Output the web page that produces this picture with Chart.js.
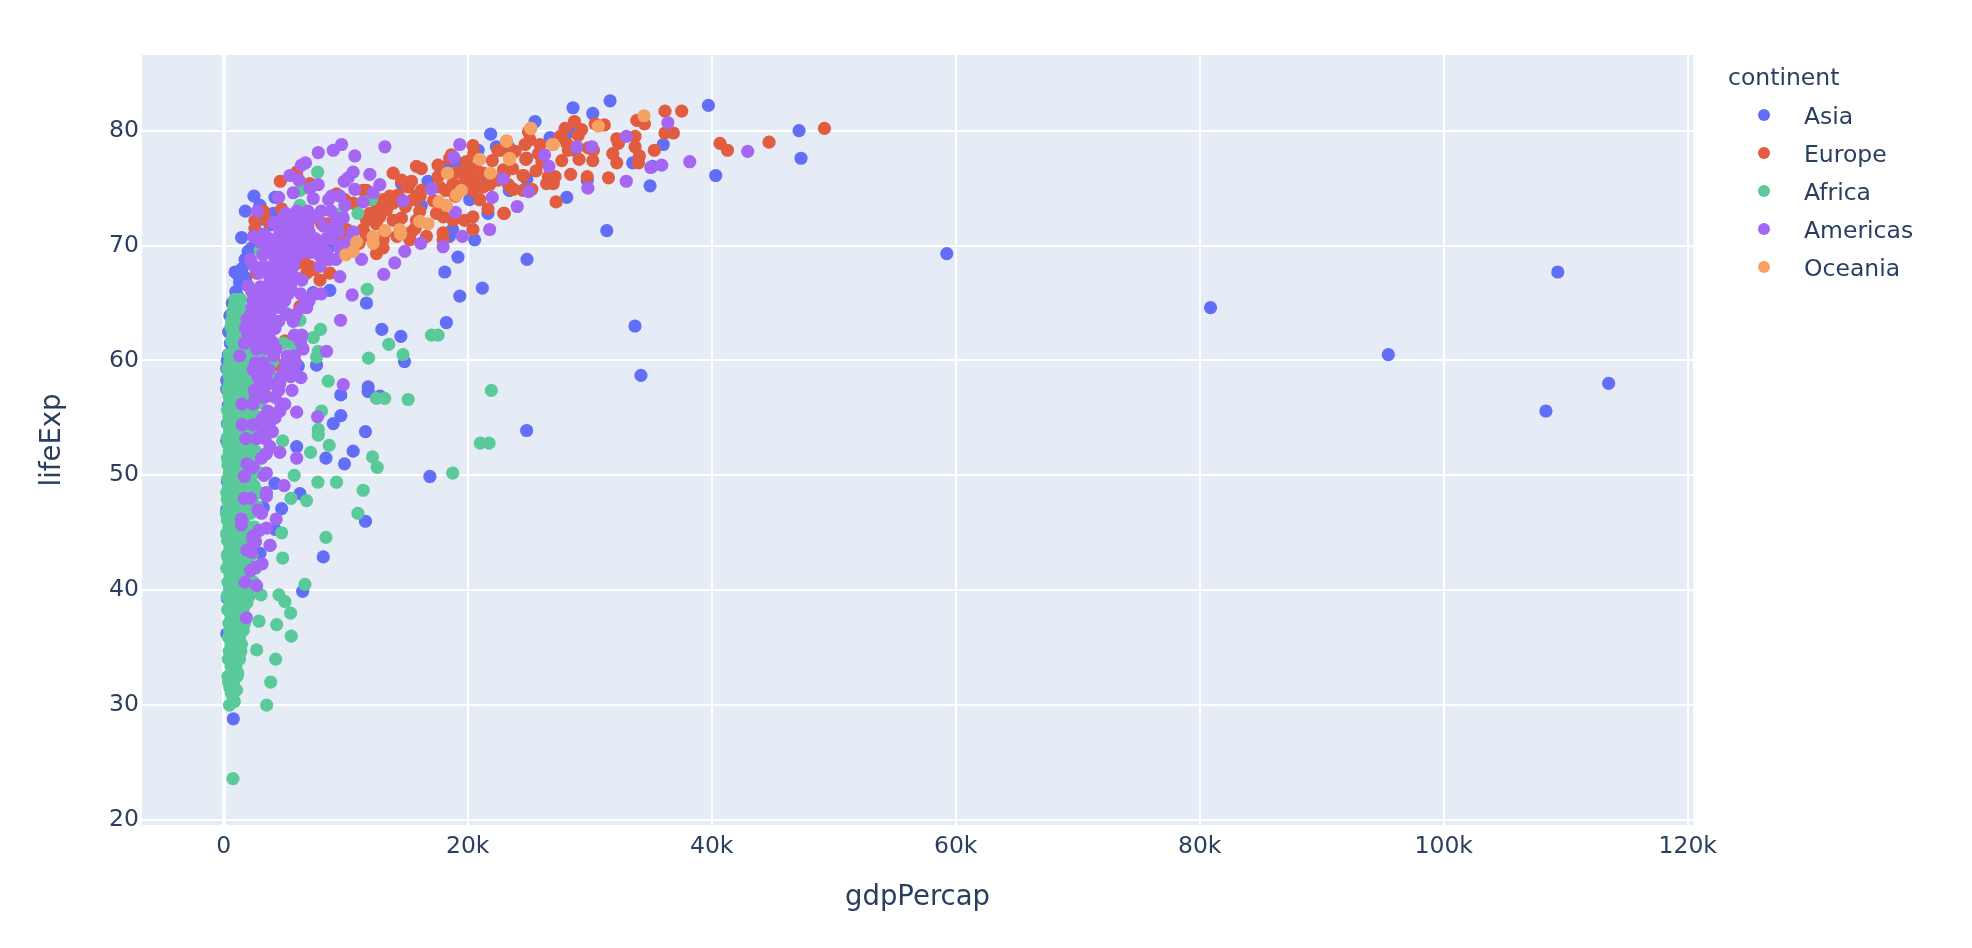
<!DOCTYPE html>
<html>
<head>
<meta charset="utf-8">
<title>gdpPercap vs lifeExp</title>
<script src="https://cdn.jsdelivr.net/npm/chart.js@4/dist/chart.umd.min.js"></script>
<style>
html, body { margin: 0; padding: 0; background: #fff; }
canvas { display: block; }
</style>
</head>
<body>
<canvas id="scatterCanvas" width="1972" height="948"></canvas>
<script>
// tick labels
const xTickValues = [0, 20000, 40000, 60000, 80000, 100000, 120000];
const yTickValues = [20, 30, 40, 50, 60, 70, 80];

const continents = ['Asia', 'Europe', 'Africa', 'Americas', 'Oceania'];
const continentColors = ['#636EF8', '#E25D3F', '#5BCA9A', '#A666F4', '#F5A263'];

// [gdpPercap, lifeExp]
const asia = [
  [108380,55.6],[113520,58.0],[95460,60.5],[80890,64.6],[109350,67.7],[59270,69.3],
  [31400,71.3],[28120,74.2],[34950,75.2],[40330,76.1],[47320,77.6],[47160,80.0],[39730,82.2],[36030,78.8],
  [35140,76.9],[33520,77.2],[29800,75.7],[31670,82.6],[28630,82.0],[30250,81.5],[25520,80.8],[26750,79.4],
  [28380,79.9],[28800,78.3],[23410,74.8],[23340,78.6],[24840,77.6],[24840,75.8],[24860,68.8],[33710,63.0],[34200,58.7],
  [21880,79.7],[22350,78.6],[14570,75.4],[16750,75.6],[18250,76.9],[19200,77.2],[20850,78.3],[20160,74.0],
  [20980,74.0],[23440,74.8],[21660,72.8],[20570,70.5],[18760,71.4],[18500,70.8],[19200,69.0],[18120,67.7],
  [19350,65.6],[21200,66.3],[18250,63.3],[14520,62.1],[12960,62.7],[11700,65.0],[14820,59.9],[11840,57.7],
  [11840,57.3],[12800,56.9],[9600,57.0],[9600,55.2],[8980,54.5],[11620,53.8],[24830,53.9],[7610,59.6],[6110,59.5],
  [8700,66.1],[7340,65.9],[5980,52.5],[8380,51.5],[10610,52.1],[9900,51.0],[16900,49.9],[4200,49.3],[6250,48.4],
  [4750,47.1],[3250,47.2],[11620,46.0],[8160,42.9],[6470,39.9],[790,28.8],[2970,43.2],[4200,45.3],
  [1770,73.0],[2480,74.3],[4200,74.2],[2970,73.5],[4070,72.8],[1470,70.7],[1750,68.8],[2000,69.5],[930,67.7],
  [1470,67.6],[1880,66.6],[1060,65.6],[790,63.8],[650,63.1],[380,60.5],[250,59.3],[250,58.3],[380,56.1],[250,53.0],
  [1200,67.4],[1500,68.0],[1300,66.8],[1800,67.2],[1000,66.0],[1200,65.5],[700,65.0],[800,64.3],[500,63.9],
  [400,62.5],[550,61.5],[300,60.0],[250,57.5],[300,54.5],[300,49.5],[250,47.0],[320,43.0],[300,39.3],[250,36.2],
  [700,31.5],[800,30.4],[3800,71.8],[3200,72.3],[2600,71.0],[2300,69.8],[5200,72.0],[7200,70.3],[8600,69.8],[13200,71.2],
  [17800,72.8],[16200,73.5],[18600,74.8],[21400,75.9]
];

const europe = [
  [49240,80.2],[44700,79.0],[41290,78.3],[40680,78.9],[37540,81.7],[36170,81.7],[36860,79.8],[36170,79.8],[35300,78.3],
  [34490,80.6],[33860,80.9],[34070,77.8],[34000,77.2],[33720,78.6],[33720,79.5],[32220,79.3],[32350,78.9],[31890,78.0],
  [32220,77.2],[31200,80.5],[30440,80.6],[30300,78.3],[30250,77.4],[29880,78.5],[29130,77.5],[29340,80.1],[28750,80.8],
  [27980,80.2],[29060,79.6],[27570,79.5],[28120,78.9],[28250,78.3],[27710,77.4],[26080,77.3],[25800,78.0],[25930,78.8],
  [25100,79.2],[24980,79.9],[24700,78.8],[23880,78.2],[22650,78.3],[24760,77.5],[23680,76.7],[22930,76.6],[25600,76.5],
  [24570,76.1],[26610,76.0],[27160,76.0],[26470,75.4],[27020,75.4],[28440,76.2],[29800,76.0],[31540,75.9],[27240,73.8],
  [23000,72.8],[23740,74.9],[23340,75.3],[24700,74.9],[25250,74.9],
  [20430,78.7],[20490,78.0],[19890,77.3],[20650,76.7],[21250,76.3],[20710,75.7],[21250,75.1],[20430,74.8],[20980,74.0],
  [19890,76.3],[19200,76.4],[19750,76.1],[18800,75.4],[18660,77.9],[18530,77.6],[17570,77.0],[17570,76.0],[17700,75.1],
  [18200,74.8],[15800,76.9],[16200,76.7],[13890,76.3],[14570,75.7],[15390,75.6],[15120,75.1],[16200,74.8],[15800,74.3],
  [15530,74.0],[16100,74.3],[13620,74.3],[13070,74.0],[13890,73.7],[12520,73.1],[13340,73.1],[12800,72.5],[11980,72.8],
  [11700,72.2],[12250,72.2],[11430,74.8],[11700,74.8],[9250,74.5],[9930,74.0],[10610,73.7],[11700,74.0],[14300,74.4],
  [13000,73.6],[13890,72.2],[14570,72.4],[16070,73.0],[17440,72.8],[15800,72.2],[18000,72.5],[18800,72.2],[19750,72.2],
  [20430,72.5],[20430,71.4],[17980,71.1],[17980,70.5],[16620,70.8],[15250,70.5],[15400,71.2],[13070,70.5],[13210,71.1],
  [11700,70.9],[12250,70.6],[11430,71.4],[10070,71.4],[9600,70.2],[12520,69.3],[13070,69.8],[21660,73.2],[22950,72.8],
  [24530,76.1],[23710,78.2],[22480,78.3],[22020,77.4],[23030,76.3],[22480,75.7],[23570,75.0],[24530,74.8],[24800,77.6],
  [19400,75.2],[20100,75.6],[21800,75.3],[19000,74.3],[17200,73.9],[14900,73.4],[12500,71.9],[15700,71.5],[14200,70.8],
  [4640,75.6],[5980,76.4],[7070,75.4],[6500,75.0],[4750,73.2],[3250,73.0],[2560,72.2],[2560,71.5],[3660,72.1],
  [8020,71.9],[8430,71.9],[6520,68.8],[7070,68.2],[7890,67.0],[8700,67.6],[8430,68.8],[5430,67.2],[2700,67.6],
  [6250,64.7],[4340,64.7],[5020,61.7],[2160,59.3],[4470,59.6],[3520,56.9],[6800,67.6],[7400,67.9],[6200,68.5],
  [9500,72.0],[10200,70.5],[10500,69.8],[11100,70.2]
];

const africa = [
  [760,23.6],[470,30.0],[870,30.3],[3520,30.0],[3850,32.0],[4260,34.0],[2700,34.8],[5540,36.0],[5480,38.0],[4340,37.0],
  [2890,37.3],[5020,39.0],[4530,39.6],[3060,39.6],[6660,40.5],[4830,42.8],[8380,44.6],[4750,45.0],[11000,46.7],
  [6790,47.8],[5510,48.0],[11430,48.7],[9250,49.4],[7720,49.4],[5780,50.0],[18770,50.2],[12580,50.7],[12200,51.6],
  [7120,52.0],[8650,52.6],[21040,52.8],[21750,52.8],[4830,53.0],[7700,76.4],[11760,66.2],[17030,62.2],[17570,62.2],
  [13530,61.4],[7940,62.7],[14700,60.5],[11870,60.2],[7610,60.3],[7750,60.8],[21940,57.4],[8570,58.2],[8020,55.6],
  [7750,53.5],[7750,54.0],[12520,56.7],[13200,56.7],[15120,56.6],
  [6250,73.5],[6250,74.8],[4880,71.9],[3000,69.6],[4180,70.2],[9660,72.8],[11000,72.8],[12100,74.0],[3250,65.3],
  [3800,65.0],[5160,64.1],[6250,63.5],[1200,65.3],[1470,63.8],[1060,62.4],[1750,61.8],[4880,61.5],[5700,61.4],[7340,62.0],
  [620,31.0],[1050,31.3],[500,31.5],[400,32.0],[800,32.0],[350,32.5],[1100,32.5],[1150,32.8],[600,33.4],[1000,33.4],
  [380,34.0],[720,34.0],[1300,34.0],[450,34.7],[950,34.7],[1400,34.7],[600,35.3],[1100,35.3],[1450,35.3],[400,35.9],
  [800,35.9],[1300,35.9],[500,36.5],[1000,36.5],[1600,36.5],[420,37.1],[780,37.1],[1250,37.1],[1700,37.1],[600,37.7],
  [950,37.7],[1500,37.7],[320,38.3],[720,38.3],[1150,38.3],[1600,38.3],[500,38.9],[900,38.9],[1350,38.9],[1900,38.9],
  [280,39.5],[650,39.5],[1100,39.5],[1700,39.5],[2100,39.5],[480,40.1],[850,40.1],[1300,40.1],[1850,40.1],[350,40.7],
  [700,40.7],[1150,40.7],[1600,40.7],[2450,40.7],[520,41.3],[950,41.3],[1400,41.3],[2000,41.3],[250,41.9],[650,41.9],
  [1100,41.9],[1750,41.9],[2600,41.9],[420,42.5],[850,42.5],[1300,42.5],[1950,42.5],[300,43.1],[700,43.1],[1150,43.1],
  [1600,43.1],[2300,43.1],[500,43.7],[950,43.7],[1450,43.7],[2050,43.7],[3800,43.9],[320,44.3],[750,44.3],[1200,44.3],
  [1800,44.3],[2600,44.3],[230,44.9],[600,44.9],[1000,44.9],[1500,44.9],[2150,44.9],[420,45.5],[850,45.5],[1300,45.5],
  [1900,45.5],[2500,45.5],[300,46.1],[700,46.1],[1150,46.1],[1650,46.1],[220,46.7],[550,46.7],[1000,46.7],[1450,46.7],
  [2200,46.7],[400,47.3],[850,47.3],[1300,47.3],[1850,47.3],[2700,47.3],[300,47.9],[680,47.9],[1150,47.9],[1600,47.9],
  [2300,47.9],[250,48.5],[550,48.5],[1000,48.5],[1450,48.5],[2000,48.5],[2900,48.5],[400,49.1],[800,49.1],[1300,49.1],
  [1800,49.1],[2500,49.1],[320,49.7],[650,49.7],[1100,49.7],[1600,49.7],[2200,49.7],[450,50.3],[900,50.3],[1400,50.3],
  [1900,50.3],[2800,50.3],[350,50.9],[750,50.9],[1200,50.9],[1700,50.9],[2400,50.9],[300,51.5],[600,51.5],[1050,51.5],
  [1550,51.5],[2100,51.5],[3000,51.5],[450,52.1],[900,52.1],[1350,52.1],[1850,52.1],[2600,52.1],[350,52.7],[750,52.7],
  [1200,52.7],[1700,52.7],[2300,52.7],[300,53.3],[650,53.3],[1100,53.3],[1550,53.3],[2050,53.3],[2900,53.3],[480,53.9],
  [900,53.9],[1400,53.9],[1900,53.9],[2600,53.9],[350,54.5],[800,54.5],[1250,54.5],[1750,54.5],[2400,54.5],[3100,54.5],
  [420,55.1],[950,55.1],[1450,55.1],[2000,55.1],[2800,55.1],[300,55.7],[750,55.7],[1200,55.7],[1700,55.7],[2350,55.7],
  [500,56.3],[1000,56.3],[1500,56.3],[2100,56.3],[3000,56.3],[420,56.9],[850,56.9],[1350,56.9],[1900,56.9],[2700,56.9],
  [350,57.5],[750,57.5],[1200,57.5],[1750,57.5],[2400,57.5],[3300,57.5],[500,58.1],[1000,58.1],[1500,58.1],[2100,58.1],
  [420,58.7],[850,58.7],[1350,58.7],[2000,58.7],[2900,58.7],[3800,58.7],[350,59.3],[750,59.3],[1250,59.3],[1800,59.3],
  [2500,59.3],[500,59.9],[1000,59.9],[1600,59.9],[2300,59.9],[3300,59.9],[4000,59.9],[450,60.5],[850,60.5],[1300,60.5],
  [2000,60.5],[2800,60.5],[900,61.1],[1400,61.1],[2200,61.1],[3400,61.1],[4200,61.1],[650,61.7],[1200,61.7],[1900,61.7],
  [3000,61.7],[750,62.3],[1300,62.3],[2500,62.3],[600,62.9],[1100,62.9],[650,63.5],[1250,63.5],[750,64.1],[1350,64.1],
  [850,64.7],[1300,64.7],[900,65.3],[1400,65.3]
];

const americas = [
  [9660,78.8],[8980,78.3],[7750,78.1],[10750,77.8],[13210,78.6],[6380,77.0],[6710,77.2],[10610,76.4],[10200,75.9],
  [9880,75.6],[11980,76.2],[12800,75.3],[10750,74.9],[12250,74.6],[5430,76.1],[6170,75.7],[7750,75.3],[7070,75.0],
  [5700,74.6],[7340,74.1],[8840,74.3],[9520,74.3],[9930,73.5],[11430,73.8],[14710,73.9],[17030,74.9],[18850,77.7],
  [19350,78.8],[22020,74.2],[22890,75.8],[24060,73.4],[21800,71.4],[19560,70.8],[18990,72.9],[17980,69.9],[16150,70.2],
  [14840,69.5],[14020,68.5],[13120,67.5],[11300,68.8],[10530,65.7],[9580,63.5],[9520,67.3],[26300,77.9],[26660,76.9],
  [24990,74.7],[29850,75.0],[28950,78.6],[2760,73.0],[2430,70.8],[30180,78.6],[35900,77.0],[36400,80.7],[33000,79.5],
  [35000,76.8],[33000,75.6],[38200,77.3],[42950,78.2],
  [6000,73.0],[6900,73.0],[8000,73.0],[8800,73.0],[5600,72.4],[6400,72.4],[7200,72.4],[9200,72.4],[9800,72.4],
  [5300,71.8],[6100,71.8],[6900,71.8],[9300,71.8],[4600,71.2],[5500,71.2],[6300,71.2],[7000,71.2],[9000,71.2],[10600,71.2],
  [3700,70.6],[4400,70.6],[5200,70.6],[6000,70.6],[6800,70.6],[7500,70.6],[8400,70.6],[3500,70.0],[4300,70.0],[5000,70.0],
  [5800,70.0],[6600,70.0],[7300,70.0],[8000,70.0],[9700,70.0],[3900,69.4],[4800,69.4],[5600,69.4],[6400,69.4],[7100,69.4],
  [8400,69.4],[4200,68.8],[5100,68.8],[5800,68.8],[8700,68.8],[9200,68.8],[2500,68.2],[3300,68.2],[4100,68.2],[5000,68.2],
  [5700,68.2],[7900,68.2],[2900,67.6],[3700,67.6],[4500,67.6],[5300,67.6],[5900,67.2],[3800,67.0],[4700,67.0],[5600,67.0],
  [6400,67.0],[3000,66.4],[3900,66.4],[4800,66.4],[5500,66.4],[2800,65.8],[3600,65.8],[4400,65.8],[5300,65.8],[6300,65.8],
  [7500,65.8],[8000,65.8],[2400,65.2],[3300,65.2],[4100,65.2],[5000,65.2],[7000,65.2],[2300,64.6],[3100,64.6],[3900,64.6],
  [4600,64.6],[6400,64.6],[6800,64.6],[2200,64.0],[3000,64.0],[3800,64.0],[5200,64.0],[5900,64.0],[2700,63.4],[3500,63.4],
  [4500,63.4],[5700,63.4],[1800,62.8],[2500,62.8],[3300,62.8],[4200,62.8],[2000,62.2],[2900,62.2],[3700,62.2],[5800,62.2],
  [6400,62.2],[2300,61.6],[3000,61.6],[4000,61.6],[6300,61.6],[2700,61.0],[3500,61.0],[4300,61.0],[6500,61.0],[1300,60.4],
  [4100,60.4],[5200,60.4],[5800,60.4],[2600,59.8],[3200,59.8],[5100,59.8],[5900,59.8],[2400,59.2],[3100,59.2],[3700,59.2],
  [5000,59.2],[5700,59.2],[2800,58.6],[3400,58.6],[4700,58.6],[5500,58.6],[6330,58.5],[3000,58.0],[3800,58.0],[4600,58.0],
  [2500,57.4],[3200,57.4],[4500,57.4],[5600,57.4],[2600,56.8],[3300,56.8],[4200,56.8],[1500,56.2],[2400,56.2],[4700,56.2],
  [5000,56.2],[3600,55.6],[4600,55.6],[4300,55.4],[5980,55.5],[3200,55.0],[4200,55.0],[3900,54.8],[7690,55.1],[1500,54.4],
  [2400,54.4],[2600,54.4],[3700,54.4],[3300,53.8],[4000,53.8],[1800,53.2],[2700,53.2],[3400,53.2],[8430,60.8],[9800,57.9],
  [5980,51.5],[4600,52.0],[3800,52.5],[1900,51.0],[2400,50.7],[3100,51.5],[3500,51.9],[1700,49.9],[3300,50.0],[3500,50.2],
  [4950,49.1],[3500,48.5],[3500,48.2],[1700,48.0],[2200,48.0],[2800,47.0],[3100,46.7],[1450,46.2],[1450,45.7],[4300,46.2],
  [3500,45.4],[2900,45.2],[2400,44.7],[2400,44.4],[2600,44.2],[3800,43.9],[1900,43.5],[2300,43.3],[3150,42.3],[2600,42.0],
  [2200,41.7],[1750,40.7],[2700,40.4],[1850,37.6],
  [3200,69.2],[3000,70.3],[3300,71.0],[8900,70.6],[9500,69.8],[10300,70.4],[7800,69.2],[9400,71.2],[8200,71.7],[7700,72.6],
  [4100,72.0],[4800,72.3],[5100,72.8],[8600,74.0],[4500,74.2],[2200,68.8],[2000,66.5],[2300,66.0],[1900,63.6],[1700,61.5]
];

const oceania = [
  [25160,80.2],[23170,79.1],[26930,78.8],[20980,77.5],[23440,77.6],[18340,76.3],[21860,76.3],[19480,74.8],[19070,74.4],
  [17650,73.8],[18250,73.5],[16070,72.1],[16750,71.9],[14430,71.4],[14500,71.0],[13210,71.3],[12250,70.8],[12250,70.2],
  [10890,70.3],[10610,69.5],[10010,69.2],[34450,81.3],[30710,80.4],[27020,78.8],[25170,80.2],[23200,79.1],[23420,77.5]
];

const continentPoints = [asia, europe, africa, americas, oceania];

const tickColor = '#2A3F5F';
const plotBackground = '#E5ECF6';
const fontFamily = '"DejaVu Sans", Verdana, sans-serif';

// plot background has to go under the grid
const plotBackgroundPlugin = {
    id: 'plotBackground',
    beforeDraw(chart) {
        const a = chart.chartArea;
        chart.ctx.save();
        chart.ctx.fillStyle = plotBackground;
        chart.ctx.fillRect(a.left, a.top, a.right - a.left, a.bottom - a.top);
        chart.ctx.restore();
    }
};

// plotly style legend with a title and a wide gap before the names
const sideLegendPlugin = {
    id: 'sideLegend',
    afterDraw(chart) {
        const ctx = chart.ctx;
        ctx.save();
        ctx.textAlign = 'left';
        ctx.textBaseline = 'alphabetic';
        ctx.font = '23.5px ' + fontFamily;
        ctx.fillStyle = tickColor;
        ctx.fillText('continent', 1728, 85);
        chart.data.datasets.forEach((ds, i) => {
            const rowY = 115 + i * 38;
            ctx.beginPath();
            ctx.arc(1764, rowY, 6, 0, Math.PI * 2);
            ctx.fillStyle = ds.backgroundColor;
            ctx.fill();
            ctx.fillStyle = tickColor;
            ctx.fillText(ds.label, 1804, rowY + 9);
        });
        ctx.restore();
    }
};

new Chart(document.getElementById('scatterCanvas'), {
    type: 'scatter',
    data: {
        datasets: continents.map((name, i) => ({
            label: name,
            data: continentPoints[i].map(p => ({ x: p[0], y: p[1] })),
            backgroundColor: continentColors[i],
            borderWidth: 0,
            pointRadius: 6.6,
            pointHoverRadius: 6.6,
            order: continents.length - i
        }))
    },
    options: {
        responsive: false,
        animation: false,
        devicePixelRatio: 1,
        layout: { padding: { top: 55, right: 279, bottom: 0, left: 0 } },
        plugins: { legend: { display: false }, tooltip: { enabled: false } },
        scales: {
            x: {
                type: 'linear',
                min: -6697,
                max: 120434,
                afterFit(scale) { scale.height = 123; },
                afterBuildTicks(scale) { scale.ticks = xTickValues.map(v => ({ value: v })); },
                title: {
                    display: true,
                    text: 'gdpPercap',
                    color: tickColor,
                    font: { family: fontFamily, size: 27.5 },
                    padding: { top: 0, bottom: 34 }
                },
                border: { display: false },
                grid: {
                    color: '#ffffff',
                    drawTicks: false,
                    lineWidth: c => (c.tick && c.tick.value === 0 ? 4 : 2)
                },
                ticks: {
                    color: tickColor,
                    font: { family: fontFamily, size: 23.5 },
                    padding: 8,
                    maxRotation: 0,
                    callback: v => (v === 0 ? '0' : v / 1000 + 'k')
                }
            },
            y: {
                type: 'linear',
                min: 19.56,
                max: 86.59,
                afterFit(scale) { scale.width = 142; },
                afterBuildTicks(scale) { scale.ticks = yTickValues.map(v => ({ value: v })); },
                title: {
                    display: true,
                    text: 'lifeExp',
                    color: tickColor,
                    font: { family: fontFamily, size: 27.5 },
                    padding: { top: 36, bottom: 0 }
                },
                border: { display: false },
                grid: { color: '#ffffff', drawTicks: false, lineWidth: 2 },
                ticks: {
                    color: tickColor,
                    font: { family: fontFamily, size: 23.5 },
                    padding: 3
                }
            }
        }
    },
    plugins: [plotBackgroundPlugin, sideLegendPlugin]
});
</script>
</body>
</html>
